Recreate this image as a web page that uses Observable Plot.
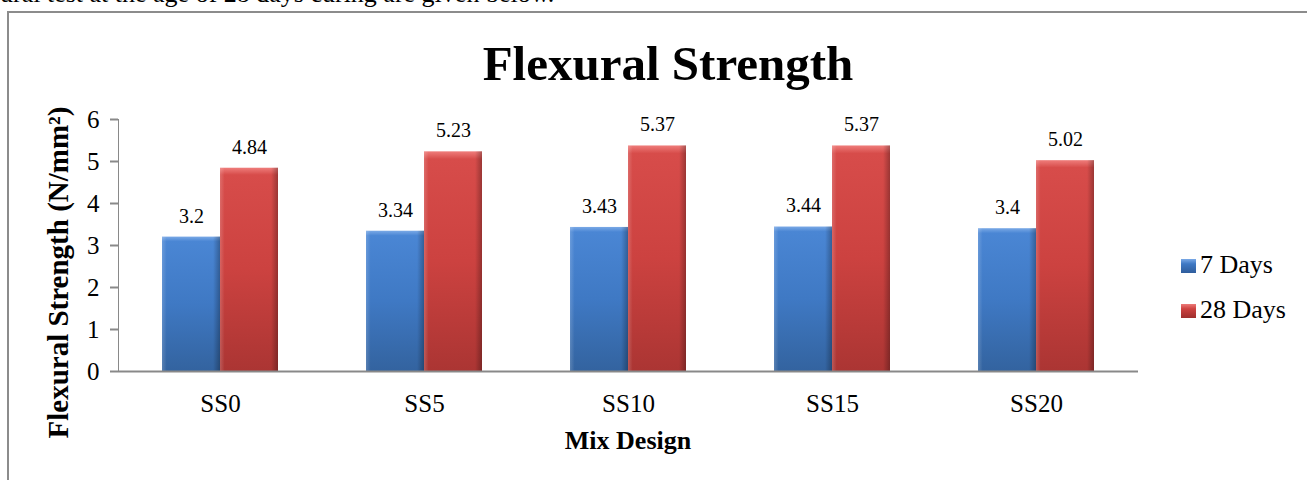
<!DOCTYPE html>
<html><head><meta charset="utf-8">
<script src="https://cdn.jsdelivr.net/npm/d3@7"></script>
<script src="https://cdn.jsdelivr.net/npm/@observablehq/plot@0.6"></script>
<style>
body{margin:0;background:#fff;font-family:"Liberation Serif","Times New Roman",serif;color:#000;}
#wrap{position:relative;width:1307px;height:480px;overflow:hidden;}
.abs{position:absolute;line-height:1;white-space:nowrap;font-family:"Liberation Serif","Times New Roman",serif;}
.intro{left:0;top:-19px;font-size:26px;}
.frame{position:absolute;left:7px;top:11px;width:1340px;height:520px;border:2px solid #8c8c8c;box-sizing:border-box;}
#chart{position:absolute;left:0;top:0;}
.title{left:0;width:1336px;top:39px;text-align:center;font-size:49px;font-weight:bold;}
.xlab{left:428px;width:400px;top:428px;text-align:center;font-size:26px;font-weight:bold;}
.ylab{left:-142px;width:400px;top:258px;text-align:center;font-size:29px;font-weight:bold;transform:rotate(-90deg);}
.leg{left:1181px;font-size:26px;}
.sw{display:inline-block;width:15px;height:14px;margin-right:4px;vertical-align:baseline;}
.sw.b{background:linear-gradient(#7aa9e6,#3f79c4 35%,#2f5d9c);}
.sw.r{background:linear-gradient(#ec7a78,#cd4240 35%,#9e2f2d);}
#chart svg text{fill:#000;font-family:"Liberation Serif","Times New Roman",serif;}
#chart svg g[aria-label^="y-axis"]{stroke-width:2px;}
</style></head><body>
<div id="wrap">
  <div class="abs intro">ural test at the age of 28 days curing are given below.</div>
  <div class="frame"></div>
  <div id="chart"></div>
  <div class="abs title">Flexural Strength</div>
  <div class="abs ylab">Flexural Strength (N/mm²)</div>
  <div class="abs xlab">Mix Design</div>
  <div class="abs leg" style="top:252px"><span class="sw b"></span>7 Days</div>
  <div class="abs leg" style="top:297px"><span class="sw r"></span>28 Days</div>
</div>
<script>
const categories = ["SS0", "SS5", "SS10", "SS15", "SS20"];
const series = ["7 Days", "28 Days"];
const days7 = [3.2, 3.34, 3.43, 3.44, 3.4];
const days28 = [4.84, 5.23, 5.37, 5.37, 5.02];
const yTicks = [0, 1, 2, 3, 4, 5, 6];

const values = [days7, days28];
const table = categories.flatMap((cat, i) =>
  series.map((s, j) => ({cat, series: s, value: values[j][i]})));

const chart = Plot.plot({
  width: 1307,
  height: 480,
  marginLeft: 116,
  marginRight: 167,
  marginTop: 119,
  marginBottom: 109,
  style: {fontFamily: "'Liberation Serif','Times New Roman',serif", fontSize: "25px", color: "#898989", background: "transparent", overflow: "visible"},
  fx: {domain: categories, padding: 0, label: null, tickSize: 0, tickPadding: 23, axis: "bottom"},
  x: {domain: series, paddingInner: 0, paddingOuter: 0.744, axis: null},
  y: {domain: [0, 6], ticks: yTicks, tickSize: 8, tickPadding: 11, label: null, line: true, tickFormat: d3.format("d")},
  color: {domain: series, range: ["url(#gBlue)", "url(#gRed)"]},
  marks: [
    Plot.barY(table, {fx: "cat", x: "series", y: "value", fill: "series"}),
    Plot.barY(table, {fx: "cat", x: "series", y: "value", fill: "url(#gShade)"}),
    Plot.ruleY([0], {stroke: "#898989", strokeWidth: 2}),
    Plot.text(table, {fx: "cat", x: "series", y: "value", text: d => String(d.value), dy: -21, fontSize: 20})
  ]
});

const svg = d3.select(chart);
const defs = svg.insert("defs", ":first-child");
function vgrad(id, stops) {
  const g = defs.append("linearGradient").attr("id", id).attr("x1", 0).attr("y1", 0).attr("x2", 0).attr("y2", 1);
  stops.forEach(([o, c]) => g.append("stop").attr("offset", o).attr("stop-color", c));
}
vgrad("gBlue", [["0", "#7aa9e6"], ["0.035", "#4a86d4"], ["0.5", "#3f79c4"], ["1", "#33639f"]]);
vgrad("gRed", [["0", "#ef7d7b"], ["0.035", "#d74c4a"], ["0.5", "#cc4240"], ["1", "#ab3533"]]);
const sh = defs.append("linearGradient").attr("id", "gShade").attr("x1", 0).attr("y1", 0).attr("x2", 1).attr("y2", 0);
[["0", "#ffffff", 0.18], ["0.08", "#ffffff", 0], ["0.88", "#000000", 0], ["1", "#000000", 0.28]]
  .forEach(([o, c, a]) => sh.append("stop").attr("offset", o).attr("stop-color", c).attr("stop-opacity", a));

document.getElementById("chart").appendChild(chart);
</script>
</body></html>
